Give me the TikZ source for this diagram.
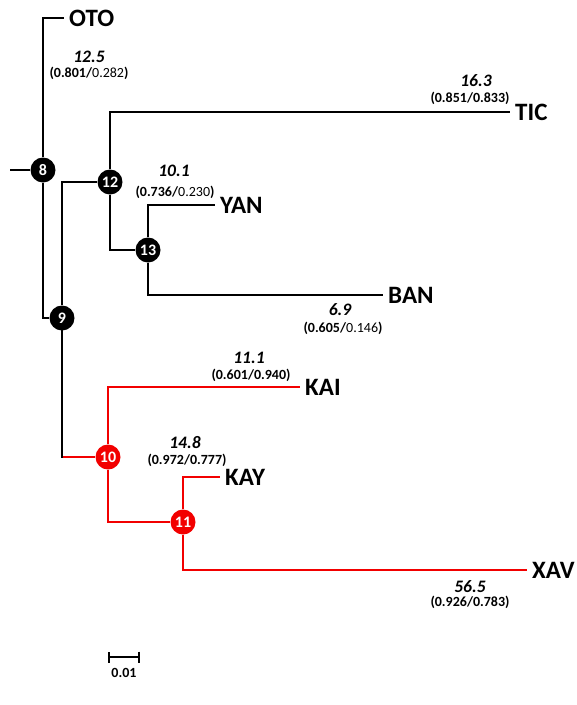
\documentclass[tikz,border=0pt]{standalone}
\usepackage{fontspec}
\setmainfont{Carlito}
\usepackage{xcolor}
\usepackage{tikz}
\usetikzlibrary{arrows.meta}
\definecolor{CladeRed}{HTML}{F20000}

\begin{document}
\begin{tikzpicture}[x=1pt,y=-1pt,
    branch/.style={line width=2.4pt},
    clado/.style={circle,fill=black,text=white,minimum size=25pt,inner sep=0pt,
                  font=\fontsize{16}{16}\selectfont\bfseries},
    cladored/.style={clado,fill=CladeRed},
    taxon/.style={anchor=west,inner sep=5pt,font=\fontsize{25}{27}\selectfont\bfseries},
    blen/.style={inner sep=0pt,font=\fontsize{17.5}{19}\selectfont\bfseries\itshape},
    supp/.style={inner sep=0pt,font=\fontsize{14}{16}\selectfont}]
  \useasboundingbox (0,0) rectangle (577,705);

  % nodos internos y taxones
  \coordinate (root) at (10,170);
  \node[clado] (n8) at (43,170) {8};
  \node[clado] (n9) at (62,318) {9};
  \node[clado] (n12) at (110,182) {12};
  \node[clado] (n13) at (148,250) {13};
  \node[cladored] (n10) at (108,457) {10};
  \node[cladored] (n11) at (183,522) {11};

  \node[taxon] (oto) at (64,18) {OTO};
  \node[taxon] (tic) at (510,112) {TIC};
  \node[taxon] (yan) at (215,205) {YAN};
  \node[taxon] (ban) at (383,295) {BAN};
  \node[taxon] (kai) at (300,387) {KAI};
  \node[taxon] (kay) at (220,477) {KAY};
  \node[taxon] (xav) at (527,570) {XAV};

  % ramas
  \draw[branch] (root) -- (n8);
  \draw[branch] (n8) |- (oto);
  \draw[branch] (n8) |- (n9);
  \draw[branch] (n9) |- (n12);
  \draw[branch,CladeRed] (n9 |- n10) -- (n10);
  \draw[branch,line cap=rect] (n9) -- (n9 |- n10);
  \draw[branch] (n12) |- (tic);
  \draw[branch] (n12) |- (n13);
  \draw[branch] (n13) |- (yan);
  \draw[branch] (n13) |- (ban);
  \draw[branch,CladeRed] (n10) |- (kai);
  \draw[branch,CladeRed] (n10) |- (n11);
  \draw[branch,CladeRed] (n11) |- (kay);
  \draw[branch,CladeRed] (n11) |- (xav);

  % longitudes y soportes
  \node[blen] (len-oto) at (89,57) {12.5};
  \node[supp] (sup-oto) at (89,73) {\textbf{(0.801/}0.282\textbf{)}};
  \node[blen] (len-tic) at (476,81) {16.3};
  \node[supp] (sup-tic) at (470,98) {\textbf{(0.851/0.833)}};
  \node[blen] (len-yan) at (174,171) {10.1};
  \node[supp] (sup-yan) at (175,192) {\textbf{(0.736/}0.230\textbf{)}};
  \node[blen] (len-ban) at (340,310) {6.9};
  \node[supp] (sup-ban) at (343,328) {\textbf{(0.605/}0.146\textbf{)}};
  \node[blen] (len-kai) at (249,358) {11.1};
  \node[supp] (sup-kai) at (251,375) {\textbf{(0.601/0.940)}};
  \node[blen] (len-kay) at (185,443) {14.8};
  \node[supp] (sup-kay) at (187,460) {\textbf{(0.972/0.777)}};
  \node[blen] (len-xav) at (470,587) {56.5};
  \node[supp] (sup-xav) at (470,602) {\textbf{(0.926/0.783)}};

  % barra de escala
  \coordinate (sb-a) at (108,657);
  \coordinate (sb-b) at (140,657);
  \draw[line width=2.2pt,{Bar[width=11pt]}-{Bar[width=11pt]}] (sb-a) -- (sb-b);
  \node[supp,font=\fontsize{14}{16}\selectfont\bfseries] (sb-lab) at (124,673) {0.01};
\end{tikzpicture}
\end{document}
